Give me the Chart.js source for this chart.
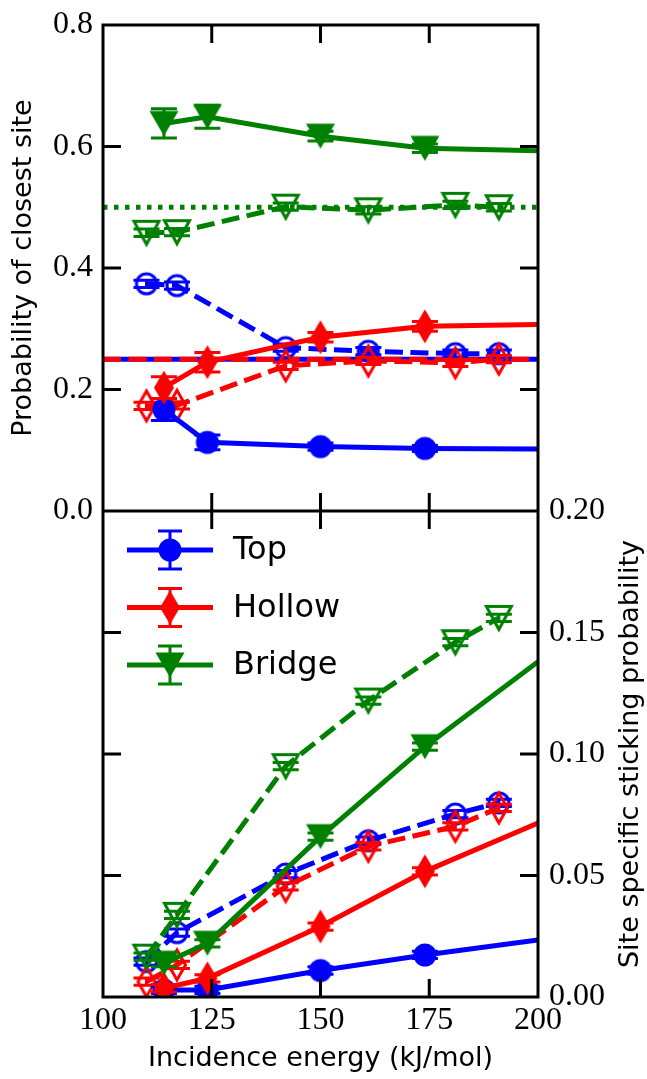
<!DOCTYPE html>
<html>
<head>
<meta charset="utf-8">
<script src="https://cdn.jsdelivr.net/npm/chart.js@4.4.1/dist/chart.umd.min.js"></script>
<style>
  body { margin: 0; background: #fff; }
  #wrap { width: 647px; height: 1079px; }
</style>
</head>
<body>
<div id="wrap"><canvas id="chart" width="647" height="1079"></canvas></div>
<script>
// ---------- datos ----------
const siteNames = ["Top", "Hollow", "Bridge"];
const xTicks = [100, 125, 150, 175, 200];
const topTicks = [0, 0.2, 0.4, 0.6, 0.8];
const botTicks = [0, 0.05, 0.1, 0.15, 0.2];

const energySolid = [114, 124, 150, 174, 200];
const energyDashed = [110, 117, 142, 161, 181, 191];

// panel superior: probabilidad del sitio mas cercano
const closestTopSolid = [0.167, 0.113, 0.106, 0.103, 0.102];
const closestHollowSolid = [0.203, 0.245, 0.286, 0.304, 0.307];
const closestBridgeSolid = [0.638, 0.649, 0.617, 0.597, 0.593];
const closestTopSolidErr = [0.018, 0.012, 0.006, 0.005, 0];
const closestHollowSolidErr = [0.018, 0.016, 0.008, 0.008, 0];
const closestBridgeSolidErr = [0.024, 0.019, 0.008, 0.007, 0];

const closestTopDashed = [0.374, 0.371, 0.269, 0.263, 0.259, 0.259];
const closestHollowDashed = [0.173, 0.174, 0.239, 0.247, 0.244, 0.25];
const closestBridgeDashed = [0.458, 0.459, 0.501, 0.495, 0.504, 0.5];
const closestDashedErr = [0.006, 0.006, 0.006, 0.006, 0.006, 0.006];

// lineas de referencia (fraccion geometrica)
const refTop = [0.25, 0.25];
const refHollow = [0.25, 0.25];
const refBridge = [0.5, 0.5];
const refEnergy = [100, 200];

// panel inferior: probabilidad de adsorcion por sitio
const stickTopSolid = [0.0029, 0.0029, 0.0109, 0.0173, 0.0235];
const stickHollowSolid = [0.0036, 0.0077, 0.029, 0.0517, 0.0716];
const stickBridgeSolid = [0.0139, 0.0221, 0.066, 0.103, 0.138];
const stickSolidErr = [0.0015, 0.0015, 0.0015, 0.0015, 0];

const stickTopDashed = [0.0146, 0.0265, 0.0506, 0.0643, 0.0753, 0.0799];
const stickHollowDashed = [0.0063, 0.0132, 0.0455, 0.062, 0.0702, 0.0778];
const stickBridgeDashed = [0.0166, 0.0338, 0.095, 0.122, 0.146, 0.156];
const stickDashedErr = [0.0015, 0.0015, 0.0015, 0.0015, 0.0015, 0.0015];

// ---------- estilos ----------
const BLUE = "#0000ff", RED = "#ff0000", GREEN = "#008000";
const SERIF = "'Liberation Serif', serif";
const SANS = "'DejaVu Sans', sans-serif";
const DASH = [18, 7.5];
const DOT = [4.5, 6.5];
const LW = 5;

function makeMarker(shape, color, filled) {
  const c = document.createElement("canvas");
  c.width = 36; c.height = 40;
  const g = c.getContext("2d");
  const cx = 18, cy = 20;
  g.fillStyle = color;
  g.strokeStyle = color;
  g.lineWidth = 3;
  g.beginPath();
  if (shape === "circle") {
    g.arc(cx, cy, filled ? 11.5 : 10, 0, Math.PI * 2);
  } else if (shape === "diamond") {
    const w = filled ? 10 : 8.5, h = filled ? 17 : 15;
    g.moveTo(cx, cy - h); g.lineTo(cx + w, cy); g.lineTo(cx, cy + h); g.lineTo(cx - w, cy);
    g.closePath();
  } else {
    const w = filled ? 14.5 : 12.5, h = filled ? 12.5 : 11.5;
    g.moveTo(cx - w, cy - h); g.lineTo(cx + w, cy - h); g.lineTo(cx, cy + h);
    g.closePath();
  }
  if (filled) g.fill(); else g.stroke();
  return c;
}

const markers = {
  Top: [makeMarker("circle", BLUE, true), makeMarker("circle", BLUE, false)],
  Hollow: [makeMarker("diamond", RED, true), makeMarker("diamond", RED, false)],
  Bridge: [makeMarker("tri", GREEN, true), makeMarker("tri", GREEN, false)],
};

function series(xs, ys, errs, color, marker, dash, axis) {
  return {
    data: xs.map((x, i) => ({ x, y: ys[i] })),
    errs,
    yAxisID: axis,
    borderColor: color,
    backgroundColor: color,
    borderWidth: LW,
    borderDash: dash,
    pointStyle: marker || false,
    pointRadius: xs.map((x) => (marker && x < 199 ? 11 : 0)),
    tension: 0,
    fill: false,
  };
}

// orden de dibujo: de abajo hacia arriba
const drawList = [
  series(refEnergy, refTop, null, BLUE, null, [], "yTop"),
  series(refEnergy, refHollow, null, RED, null, DASH, "yTop"),
  series(refEnergy, refBridge, null, GREEN, null, DOT, "yTop"),

  series(energyDashed, closestTopDashed, closestDashedErr, BLUE, markers.Top[1], DASH, "yTop"),
  series(energyDashed, closestHollowDashed, closestDashedErr, RED, markers.Hollow[1], DASH, "yTop"),
  series(energyDashed, closestBridgeDashed, closestDashedErr, GREEN, markers.Bridge[1], DASH, "yTop"),
  series(energySolid, closestTopSolid, closestTopSolidErr, BLUE, markers.Top[0], [], "yTop"),
  series(energySolid, closestHollowSolid, closestHollowSolidErr, RED, markers.Hollow[0], [], "yTop"),
  series(energySolid, closestBridgeSolid, closestBridgeSolidErr, GREEN, markers.Bridge[0], [], "yTop"),

  series(energyDashed, stickTopDashed, stickDashedErr, BLUE, markers.Top[1], DASH, "yBot"),
  series(energyDashed, stickHollowDashed, stickDashedErr, RED, markers.Hollow[1], DASH, "yBot"),
  series(energyDashed, stickBridgeDashed, stickDashedErr, GREEN, markers.Bridge[1], DASH, "yBot"),
  series(energySolid, stickTopSolid, stickSolidErr, BLUE, markers.Top[0], [], "yBot"),
  series(energySolid, stickHollowSolid, stickSolidErr, RED, markers.Hollow[0], [], "yBot"),
  series(energySolid, stickBridgeSolid, stickSolidErr, GREEN, markers.Bridge[0], [], "yBot"),
];
drawList.forEach((d, i) => (d.order = drawList.length - i));

/* =========================
   BARRAS DE ERROR
=========================*/
const errorBars = {
  id: "errorBars",
  afterDatasetDraw(chart, args) {
    const ds = chart.data.datasets[args.index];
    if (!ds.errs) return;
    const ctx = chart.ctx;
    const xs = chart.scales.x, ys = chart.scales[ds.yAxisID];
    ctx.save();
    ctx.strokeStyle = ds.borderColor;
    ctx.lineWidth = 3;
    ctx.setLineDash([]);
    ds.data.forEach((p, i) => {
      const e = ds.errs[i];
      if (!e) return;
      const px = xs.getPixelForValue(p.x);
      const y1 = ys.getPixelForValue(p.y + e);
      const y2 = ys.getPixelForValue(p.y - e);
      ctx.beginPath();
      ctx.moveTo(px, y1); ctx.lineTo(px, y2);
      ctx.moveTo(px - 13, y1); ctx.lineTo(px + 13, y1);
      ctx.moveTo(px - 13, y2); ctx.lineTo(px + 13, y2);
      ctx.stroke();
    });
    ctx.restore();
  },
};

/* =========================
   MARCO, TICKS, TITULOS, LEYENDA
=========================*/
const frame = {
  id: "frame",
  afterDraw(chart) {
    const ctx = chart.ctx;
    const a = chart.chartArea;
    const xs = chart.scales.x, yt = chart.scales.yTop, yb = chart.scales.yBot;
    const mid = yt.getPixelForValue(0);
    const T = 18;
    ctx.save();
    ctx.strokeStyle = "#000";
    ctx.lineWidth = 3;
    ctx.strokeRect(a.left, a.top, a.right - a.left, a.bottom - a.top);
    ctx.beginPath();
    ctx.moveTo(a.left, mid); ctx.lineTo(a.right, mid);

    const ys = topTicks.map((v) => yt.getPixelForValue(v))
      .concat(botTicks.map((v) => yb.getPixelForValue(v)));
    ys.forEach((py) => {
      if (Math.abs(py - a.top) < 2 || Math.abs(py - a.bottom) < 2 || Math.abs(py - mid) < 2) return;
      ctx.moveTo(a.left, py); ctx.lineTo(a.left + T, py);
      ctx.moveTo(a.right, py); ctx.lineTo(a.right - T, py);
    });
    xTicks.forEach((v) => {
      const px = xs.getPixelForValue(v);
      if (Math.abs(px - a.left) < 2 || Math.abs(px - a.right) < 2) return;
      ctx.moveTo(px, a.top); ctx.lineTo(px, a.top + T);
      ctx.moveTo(px, mid - T); ctx.lineTo(px, mid + T);
      ctx.moveTo(px, a.bottom); ctx.lineTo(px, a.bottom - T);
    });
    ctx.stroke();

    // titulos de ejes
    ctx.fillStyle = "#000";
    ctx.font = "27px " + SANS;
    ctx.textAlign = "center";
    ctx.textBaseline = "middle";
    ctx.fillText("Incidence energy (kJ/mol)", (a.left + a.right) / 2, 1059);

    ctx.save();
    ctx.translate(24, (a.top + mid) / 2);
    ctx.rotate(-Math.PI / 2);
    ctx.fillText("Probability of closest site", 0, 0);
    ctx.restore();

    ctx.save();
    ctx.translate(631, (mid + a.bottom) / 2);
    ctx.rotate(-Math.PI / 2);
    ctx.fillText("Site specific sticking probability", 0, 0);
    ctx.restore();

    // leyenda
    const colors = [BLUE, RED, GREEN];
    ctx.font = "32px " + SANS;
    ctx.textAlign = "left";
    siteNames.forEach((name, i) => {
      const ly = 550 + i * 57.5;
      const lx = 170;
      ctx.strokeStyle = colors[i];
      ctx.lineWidth = LW;
      ctx.beginPath();
      ctx.moveTo(127, ly); ctx.lineTo(213, ly);
      ctx.stroke();
      ctx.lineWidth = 3;
      ctx.beginPath();
      ctx.moveTo(lx, ly - 19); ctx.lineTo(lx, ly + 19);
      ctx.moveTo(lx - 12, ly - 19); ctx.lineTo(lx + 12, ly - 19);
      ctx.moveTo(lx - 12, ly + 19); ctx.lineTo(lx + 12, ly + 19);
      ctx.stroke();
      const m = markers[name][0];
      ctx.drawImage(m, lx - m.width / 2, ly - m.height / 2);
      ctx.fillStyle = "#000";
      ctx.fillText(name, 233, ly + 1);
    });
    ctx.restore();
  },
};

const tickFont = { family: SERIF, size: 32, lineHeight: 1 };

new Chart(document.getElementById("chart"), {
  type: "line",
  data: { datasets: drawList },
  options: {
    responsive: false,
    animation: false,
    events: [],
    layout: { padding: { top: 25, left: 0, right: 0, bottom: 0 } },
    plugins: { legend: { display: false }, tooltip: { enabled: false } },
    scales: {
      x: {
        type: "linear",
        min: 100,
        max: 200,
        afterBuildTicks: (s) => { s.ticks = xTicks.map((value) => ({ value })); },
        afterFit: (s) => { s.height = 82; },
        grid: { display: false, drawTicks: false },
        border: { display: false },
        ticks: { font: tickFont, color: "#000", padding: 8, maxRotation: 0, autoSkip: false,
          callback: (v) => String(v) },
      },
      yTop: {
        type: "linear",
        position: "left",
        min: -0.8,
        max: 0.8,
        afterBuildTicks: (s) => { s.ticks = topTicks.map((value) => ({ value })); },
        afterFit: (s) => { s.width = 103; s.paddingTop = 0; s.paddingBottom = 0; },
        grid: { display: false, drawTicks: false },
        border: { display: false },
        ticks: { font: tickFont, color: "#000", padding: 10, autoSkip: false,
          callback: (v) => v.toFixed(1) },
      },
      yBot: {
        type: "linear",
        position: "right",
        min: 0,
        max: 0.4,
        afterBuildTicks: (s) => { s.ticks = botTicks.map((value) => ({ value })); },
        afterFit: (s) => { s.width = 109; s.paddingTop = 0; s.paddingBottom = 0; },
        grid: { display: false, drawTicks: false },
        border: { display: false },
        ticks: { font: tickFont, color: "#000", padding: 11, autoSkip: false,
          callback: (v) => v.toFixed(2) },
      },
    },
  },
  plugins: [errorBars, frame],
});
</script>
</body>
</html>
